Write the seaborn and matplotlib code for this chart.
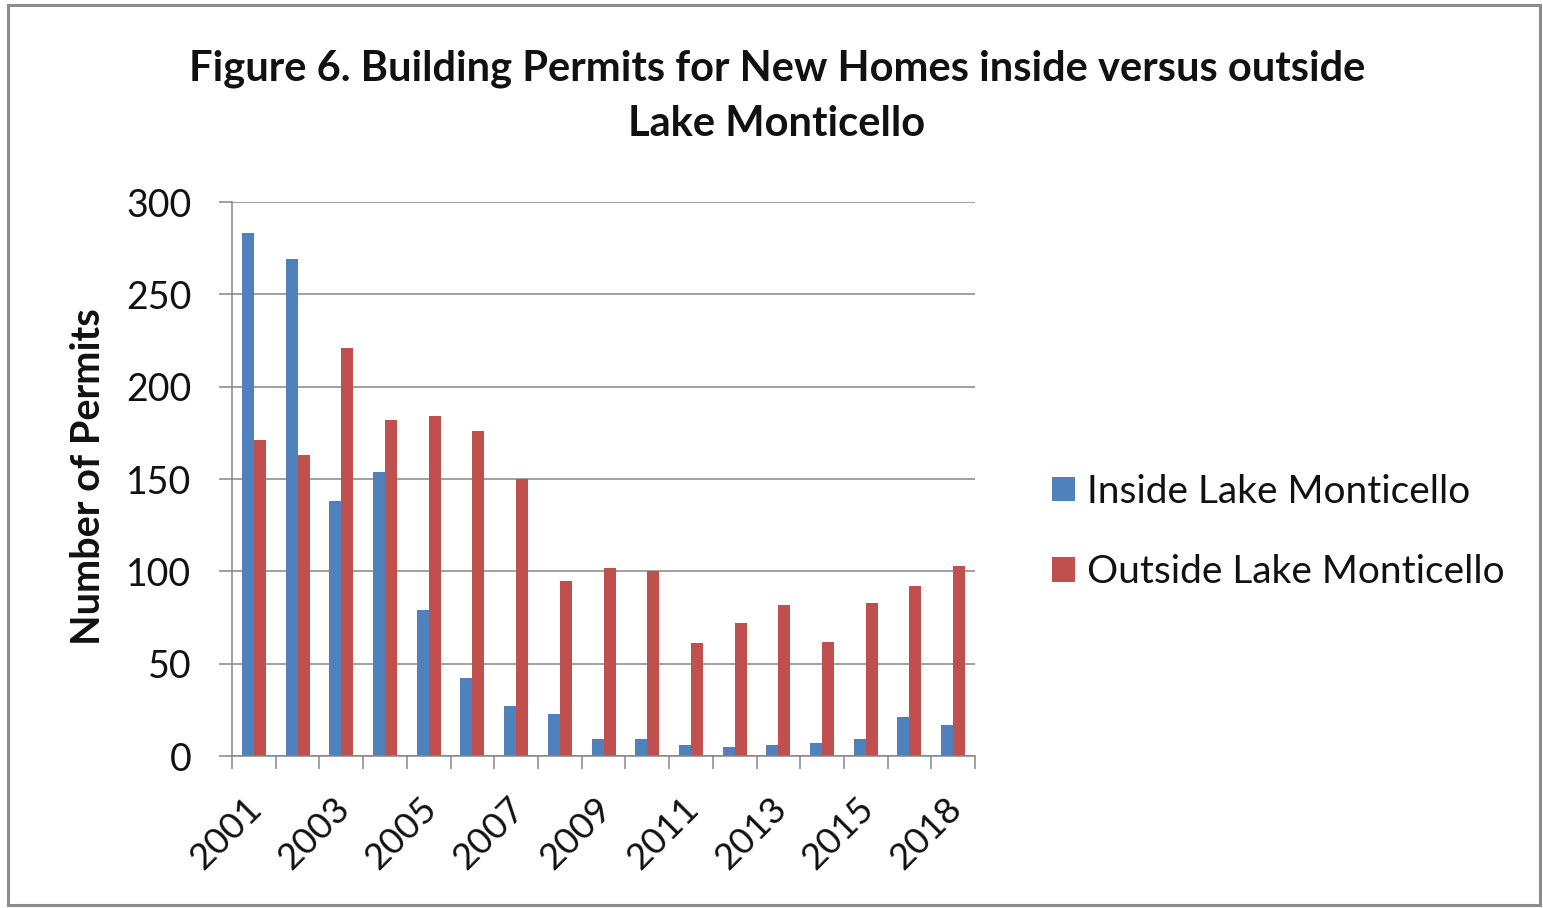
import numpy as np
import pandas as pd
import matplotlib
matplotlib.use("Agg")
import matplotlib.pyplot as plt
import matplotlib.transforms as mtransforms
import seaborn as sns
from matplotlib.patches import Rectangle, Patch

# Building permits per year, inside vs outside Lake Monticello
years = ["2001", "2002", "2003", "2004", "2005", "2006", "2007", "2008", "2009",
         "2010", "2011", "2012", "2013", "2014", "2015", "2017", "2018"]
inside = [283, 269, 138, 154, 79, 42, 27, 23, 9, 9, 6, 5, 6, 7, 9, 21, 17]
outside = [171, 163, 221, 182, 184, 176, 150, 95, 102, 100, 61, 72, 82, 62, 83, 92, 103]
series = ["Inside Lake Monticello", "Outside Lake Monticello"]
colors = ["#4F81BD", "#C0504D"]
yticks = [0, 50, 100, 150, 200, 250, 300]

df = pd.DataFrame({
    "Year": years * 2,
    "Permits": inside + outside,
    "Location": [series[0]] * len(years) + [series[1]] * len(years),
})

sns.set_theme(style="white")
plt.rcParams["font.family"] = ["Lato", "DejaVu Sans"]

GRID = "#868686"
INK = "#111111"

fig = plt.figure(figsize=(15.43, 9.08), dpi=100)
ax = fig.add_axes([0.1504, 0.1674, 0.4815, 0.6101])

sns.barplot(data=df, x="Year", y="Permits", hue="Location", order=years,
            hue_order=series, palette=colors, saturation=1, width=0.55,
            dodge=True, linewidth=0, errorbar=None, legend=False, ax=ax)

ax.set_xlim(-0.5, len(years) - 0.5)
ax.set_ylim(0, 300)
ax.set_yticks(yticks)
ax.set_xlabel("")
ax.set_ylabel("")

ax.set_axisbelow(True)
ax.yaxis.grid(True, color=GRID, linewidth=1.1)
ax.xaxis.grid(False)
for side in ("top", "right"):
    ax.spines[side].set_visible(False)
for side in ("left", "bottom"):
    ax.spines[side].set_color(GRID)
    ax.spines[side].set_linewidth(1.1)

ax.tick_params(axis="y", left=True, length=9.4, width=1.1, color=GRID,
               pad=20, labelsize=27, labelcolor=INK)

ax.set_xticks(range(len(years)))
ax.set_xticklabels([y if i % 2 == 0 else "" for i, y in enumerate(years)],
                   rotation=45, ha="right", va="top", rotation_mode="anchor",
                   fontsize=26.5, color=INK)
ax.tick_params(axis="x", which="major", bottom=True, length=0, pad=24)
ax.set_xticks(np.arange(-0.5, len(years), 1), minor=True)
ax.tick_params(axis="x", which="minor", bottom=True, length=9.4, width=1.1, color=GRID)

# nudge the slanted year labels slightly left
shift = mtransforms.ScaledTranslation(-9 / 100, -2 / 100, fig.dpi_scale_trans)
for lbl in ax.get_xticklabels():
    lbl.set_transform(lbl.get_transform() + shift)

fig.text(89 / 1543, 1 - 477 / 908, "Number of Permits", rotation=90,
         ha="center", va="center", fontsize=28.5, fontweight="bold", color=INK)

fig.text(0.5035, 1 - 96 / 908,
         "Figure 6. Building Permits for New Homes inside versus outside\nLake Monticello",
         ha="center", va="center", fontsize=30, fontweight="bold",
         color=INK, linespacing=1.55)

handles = [Patch(facecolor=c, edgecolor="none") for c in colors]
fig.legend(handles, series, loc="center left",
           bbox_to_anchor=(1052 / 1543, 1 - 532 / 908), frameon=False,
           fontsize=28, handlelength=0.6, handleheight=0.6,
           handletextpad=0.3, labelspacing=1.15, borderpad=0, borderaxespad=0,
           labelcolor=INK)

fig.patches.append(Rectangle((8 / 1543, 3 / 908), 1532 / 1543, 900 / 908,
                             transform=fig.transFigure, fill=False,
                             edgecolor="#8c8c8c", linewidth=2.2))

fig.savefig("out.png", dpi=100)
